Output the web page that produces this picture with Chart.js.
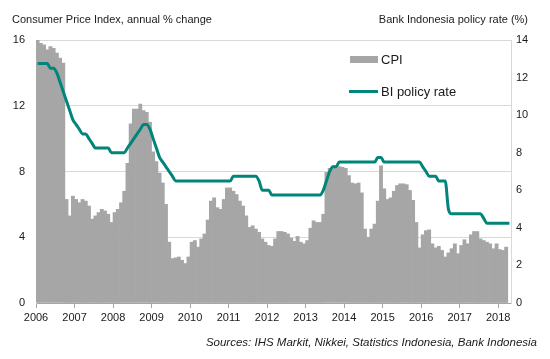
<!DOCTYPE html>
<html>
<head>
<meta charset="utf-8">
<script src="https://cdn.jsdelivr.net/npm/chart.js@4.4.1/dist/chart.umd.min.js"></script>
<style>
    body { margin: 0; background: #fff; }
    #wrap { position: relative; width: 550px; height: 359px; font-family: "Liberation Sans", Arial, sans-serif; color: #1a1a1a; }
    #chart { position: absolute; left: 0; top: 0; }
    .lbl { position: absolute; white-space: nowrap; line-height: 14px; }
    .key { position: absolute; }
</style>
</head>
<body>
<div id="wrap">
    <canvas id="chart" width="550" height="359"></canvas>
    <div class="lbl" style="left:12px; top:12px; font-size:11px;">Consumer Price Index, annual % change</div>
    <div class="lbl" style="right:22px; top:12px; font-size:11px;">Bank Indonesia policy rate (%)</div>

    <div class="key" style="left:350px; top:56px; width:28px; height:7px; background:#a6a6a6;"></div>
    <div class="lbl" style="left:381px; top:52px; font-size:13px; line-height:16px;">CPI</div>
    <div class="key" style="left:349px; top:90px; width:29px; height:3px; background:#00857a;"></div>
    <div class="lbl" style="left:381px; top:84px; font-size:13px; line-height:16px;">BI policy rate</div>

    <div class="lbl" style="right:13px; top:335px; font-size:11.5px; font-style:italic;">Sources: IHS Markit, Nikkei, Statistics Indonesia, Bank Indonesia</div>
</div>
<script>
// data, monthly from Jan 2006

const years = [2006, 2007, 2008, 2009, 2010, 2011, 2012, 2013, 2014, 2015, 2016, 2017, 2018];
const monthNames = ['Jan', 'Feb', 'Mar', 'Apr', 'May', 'Jun', 'Jul', 'Aug', 'Sep', 'Oct', 'Nov', 'Dec'];

// CPI, annual % change (no April 2018 reading yet)
const cpi = [
    17.0, 15.8, 15.7, 15.4, 15.6, 15.5, 15.2, 14.9, 14.6, 6.3, 5.3, 6.5,      // 2006
    6.3, 6.1, 6.3, 6.2, 5.9, 5.1, 5.3, 5.5, 5.7, 5.6, 5.4, 4.9,               // 2007
    5.5, 5.7, 6.1, 6.8, 8.5, 10.9, 11.8, 11.8, 12.1, 11.7, 11.6, 11.0,        // 2008
    9.2, 8.6, 7.9, 7.3, 6.0, 3.7, 2.7, 2.75, 2.8, 2.6, 2.4, 2.8,              // 2009
    3.7, 3.8, 3.4, 3.9, 4.2, 5.05, 6.2, 6.4, 5.8, 5.7, 6.3, 7.0,              // 2010
    7.0, 6.8, 6.6, 6.2, 5.9, 5.3, 4.6, 4.7, 4.5, 4.3, 3.9, 3.7,               // 2011
    3.5, 3.45, 3.9, 4.35, 4.35, 4.3, 4.2, 3.95, 3.75, 4.05, 3.7, 3.6,         // 2012
    3.8, 4.55, 5.0, 4.9, 4.9, 5.4, 7.95, 8.2, 8.3, 8.35, 8.3, 8.25,           // 2013
    8.2, 7.75, 7.3, 7.25, 7.3, 6.7, 4.5, 4.0, 4.5, 4.8, 6.2, 8.35,            // 2014
    6.95, 6.3, 6.4, 6.8, 7.15, 7.25, 7.25, 7.2, 6.85, 6.25, 4.9, 3.35,        // 2015
    4.15, 4.4, 4.45, 3.6, 3.35, 3.45, 3.2, 2.8, 3.05, 3.3, 3.6, 3.0,          // 2016
    3.5, 3.85, 3.6, 4.15, 4.35, 4.35, 3.9, 3.8, 3.7, 3.6, 3.3, 3.6,           // 2017
    3.25, 3.2, 3.4                                                             // 2018
];

// BI policy rate, %
const policyRate = [
    12.75, 12.75, 12.75, 12.75, 12.5, 12.5, 12.25, 11.75, 11.25, 10.75, 10.25, 9.75,
    9.5, 9.25, 9.0, 9.0, 8.75, 8.5, 8.25, 8.25, 8.25, 8.25, 8.25, 8.0,
    8.0, 8.0, 8.0, 8.0, 8.25, 8.5, 8.75, 9.0, 9.25, 9.5, 9.5, 9.25,
    8.75, 8.25, 7.75, 7.5, 7.25, 7.0, 6.75, 6.5, 6.5, 6.5, 6.5, 6.5,
    6.5, 6.5, 6.5, 6.5, 6.5, 6.5, 6.5, 6.5, 6.5, 6.5, 6.5, 6.5,
    6.5, 6.75, 6.75, 6.75, 6.75, 6.75, 6.75, 6.75, 6.75, 6.5, 6.0, 6.0,
    6.0, 5.75, 5.75, 5.75, 5.75, 5.75, 5.75, 5.75, 5.75, 5.75, 5.75, 5.75,
    5.75, 5.75, 5.75, 5.75, 5.75, 6.0, 6.5, 7.0, 7.25, 7.25, 7.5, 7.5,
    7.5, 7.5, 7.5, 7.5, 7.5, 7.5, 7.5, 7.5, 7.5, 7.5, 7.75, 7.75,
    7.5, 7.5, 7.5, 7.5, 7.5, 7.5, 7.5, 7.5, 7.5, 7.5, 7.5, 7.5,
    7.25, 7.0, 6.75, 6.75, 6.75, 6.5, 6.5, 6.5, 5.0, 4.75, 4.75, 4.75,
    4.75, 4.75, 4.75, 4.75, 4.75, 4.75, 4.75, 4.5, 4.25, 4.25, 4.25, 4.25,
    4.25, 4.25, 4.25, 4.25
];

const months = [];
years.forEach(y => monthNames.forEach(m => months.push(m + ' ' + y)));
months.length = policyRate.length;

Chart.defaults.font.family = '"Liberation Sans", Arial, sans-serif';
Chart.defaults.font.size = 11;
Chart.defaults.color = '#1a1a1a';

const ctx = document.getElementById('chart').getContext('2d');
new Chart(ctx, {
    data: {
        labels: months,
        datasets: [{
            type: 'line',
            label: 'BI policy rate',
            data: policyRate,
            xAxisID: 'x',
            yAxisID: 'y2',
            borderColor: '#00857a',
            borderWidth: 3,
            pointRadius: 0,
            cubicInterpolationMode: 'monotone',
            order: 1
        }, {
            type: 'bar',
            label: 'CPI',
            data: cpi,
            xAxisID: 'x',
            yAxisID: 'y',
            backgroundColor: '#a6a6a6',
            borderWidth: 0,
            barPercentage: 1,
            categoryPercentage: 1,
            order: 2
        }]
    },
    options: {
        responsive: false,
        animation: false,
        devicePixelRatio: 1,
        layout: { padding: { top: 40, left: 0, right: 0, bottom: 0 } },
        plugins: {
            legend: { display: false },
            tooltip: { enabled: false }
        },
        scales: {
            x: {
                type: 'category',
                display: false,
                offset: true
            },
            xYear: {
                type: 'linear',
                position: 'bottom',
                min: years[0],
                max: years[0] + months.length / 12,
                afterFit: (s) => { s.height = 56; },
                ticks: {
                    stepSize: 1,
                    includeBounds: false,
                    maxRotation: 0,
                    autoSkip: false,
                    padding: 3,
                    callback: (v) => String(v)
                },
                grid: { drawOnChartArea: false, tickLength: 5, color: '#a6a6a6' },
                border: { display: true, color: '#a6a6a6' }
            },
            y: {
                position: 'left',
                min: 0,
                max: 16,
                afterFit: (s) => { s.width = 36; },
                ticks: { stepSize: 4, padding: 11 },
                grid: { color: '#d9d9d9', drawTicks: false },
                border: { display: true, color: '#d9d9d9' }
            },
            y2: {
                position: 'right',
                min: 0,
                max: 14,
                afterFit: (s) => { s.width = 39; },
                ticks: { stepSize: 2, padding: 5 },
                grid: { display: false, drawTicks: false },
                border: { display: true, color: '#d9d9d9' }
            }
        }
    }
});
</script>
</body>
</html>
